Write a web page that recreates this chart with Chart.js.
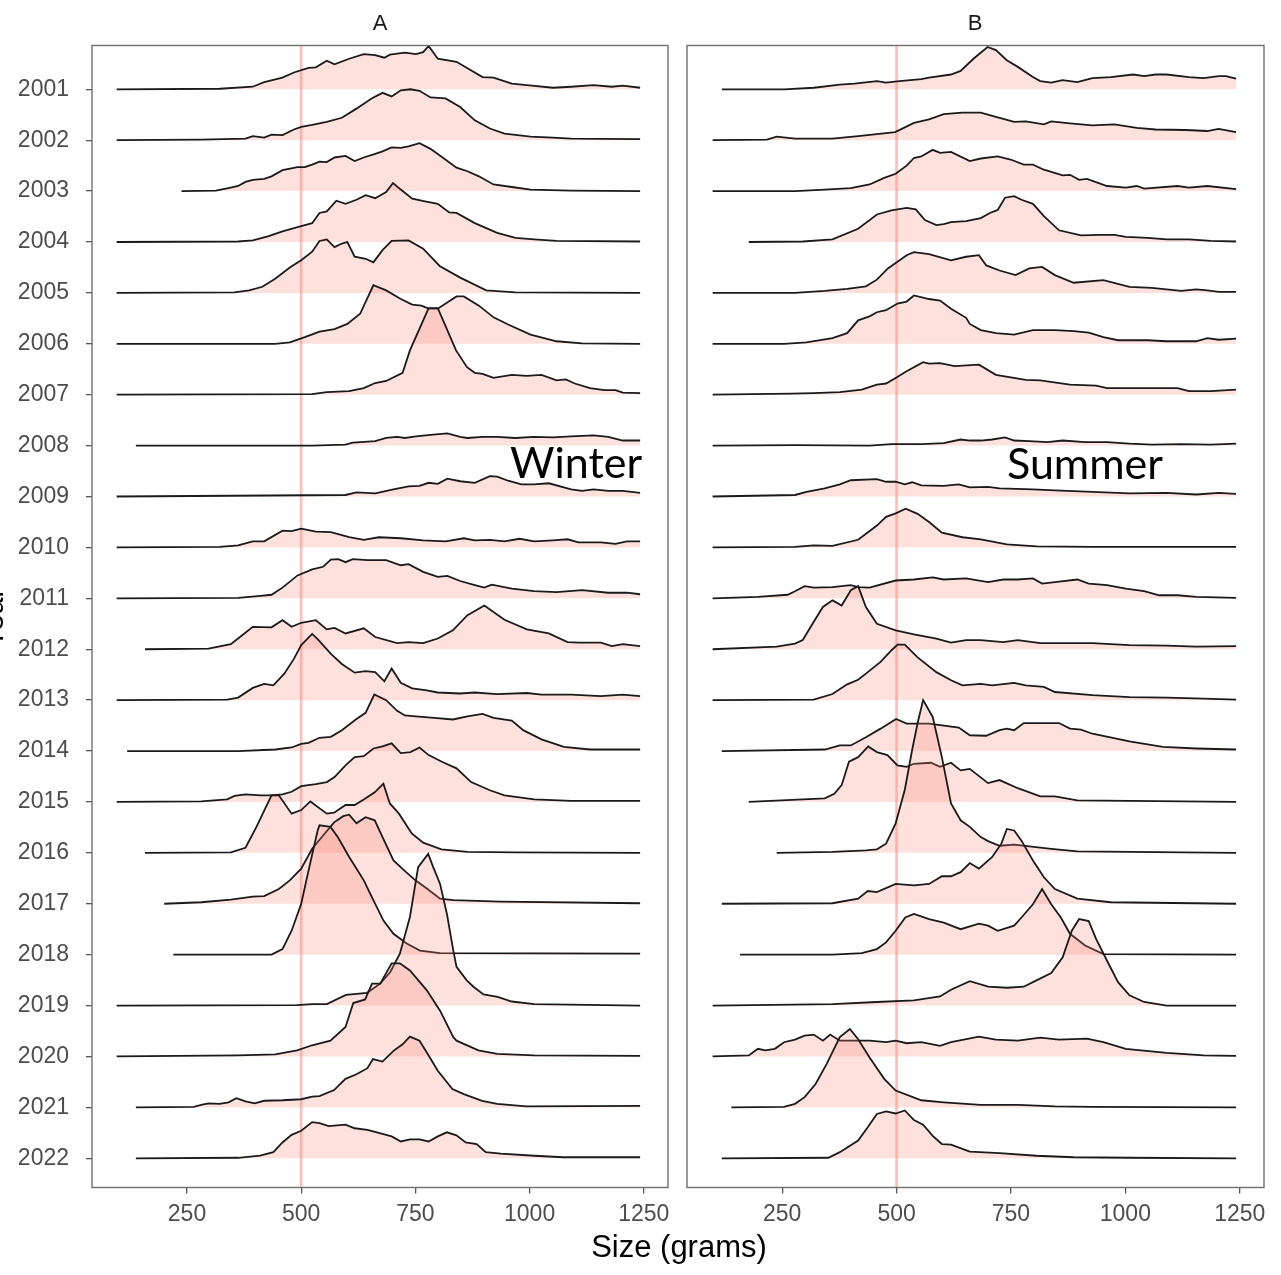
<!DOCTYPE html>
<html><head><meta charset="utf-8">
<script src="https://cdn.jsdelivr.net/npm/chart.js@4.4.1/dist/chart.umd.min.js"></script>
<style>
html,body{margin:0;padding:0;background:#fff;}
#wrap{position:relative;width:1281px;height:1275px;overflow:hidden;background:#fff;}
canvas{position:absolute;top:0;}
.t{position:absolute;white-space:nowrap;font-family:"Liberation Sans",Arial,sans-serif;color:#1a1a1a;}
.big{font-family:Lato,"Open Sans",sans-serif;font-size:43px;line-height:43px;color:#000;}
</style></head><body>
<div id="wrap">
<canvas id="cA" width="680" height="1275" style="left:0;width:680px;height:1275px"></canvas>
<canvas id="cB" width="609" height="1275" style="left:672px;width:609px;height:1275px"></canvas>
<div class="t" style="left:330px;top:12px;width:100px;text-align:center;font-size:22px;line-height:22px">A</div>
<div class="t" style="left:925px;top:12px;width:100px;text-align:center;font-size:22px;line-height:22px">B</div>
<div class="t" style="left:529px;top:1231px;width:300px;text-align:center;font-size:31px;line-height:31px;color:#000">Size (grams)</div>
<div class="t" style="left:-47px;top:603px;width:80px;height:30px;text-align:center;font-size:30px;line-height:30px;color:#000;transform:rotate(-90deg)">Year</div>
<div class="t big" style="left:510px;top:440px">Winter</div>
<div class="t big" style="left:1007px;top:441px">Summer</div>
</div>
<script>
const years = [2001,2002,2003,2004,2005,2006,2007,2008,2009,2010,2011,2012,2013,2014,2015,2016,2017,2018,2019,2020,2021,2022];
const xTicks = [250,500,750,1000,1250];
const refLine = 500;
const xMin = 42, xMax = 1303;

// Winter (panel A): [size in grams, ridge height in row units]
const winter = [
[[96,0],[322,0.01],[394,0.05],[419,0.14],[459,0.23],[484,0.33],[516,0.42],[532,0.43],[556,0.56],[573,0.49],[605,0.60],[637,0.69],[662,0.67],[682,0.62],[694,0.68],[727,0.72],[751,0.69],[767,0.73],[779,0.85],[799,0.6],[840,0.54],[897,0.24],[921,0.23],[961,0.11],[994,0.08],[1051,0.03],[1091,0.05],[1140,0.08],[1180,0.05],[1204,0.07],[1242,0.03]],
[[96,0],[281,0.01],[378,0.03],[394,0.08],[419,0.05],[435,0.11],[459,0.10],[484,0.21],[500,0.26],[524,0.30],[556,0.36],[589,0.44],[621,0.62],[654,0.82],[678,0.93],[698,0.86],[718,0.98],[739,1.0],[759,0.97],[783,0.84],[816,0.82],[848,0.65],[880,0.39],[913,0.23],[945,0.13],[1002,0.07],[1051,0.05],[1091,0.03],[1242,0.02]],
[[238,0],[313,0.01],[346,0.07],[362,0.10],[378,0.18],[394,0.22],[419,0.24],[435,0.29],[459,0.41],[492,0.47],[508,0.47],[524,0.52],[540,0.58],[556,0.57],[573,0.66],[597,0.69],[617,0.59],[637,0.66],[662,0.73],[678,0.78],[698,0.86],[718,0.85],[735,0.88],[759,0.94],[783,0.83],[808,0.67],[840,0.46],[864,0.39],[889,0.29],[921,0.13],[961,0.08],[1002,0.03],[1091,0.01],[1242,0]],
[[96,0],[362,0.01],[394,0.03],[427,0.11],[459,0.21],[492,0.29],[516,0.35],[524,0.37],[540,0.57],[556,0.60],[577,0.81],[597,0.75],[621,0.83],[641,0.92],[662,0.86],[686,0.98],[701,1.16],[718,1.03],[743,0.85],[771,0.80],[799,0.75],[824,0.58],[840,0.57],[880,0.37],[929,0.18],[969,0.08],[1010,0.05],[1059,0.02],[1242,0.01]],
[[96,0],[354,0.01],[386,0.05],[415,0.12],[443,0.28],[475,0.50],[500,0.64],[524,0.81],[540,1.02],[556,1.05],[573,0.90],[589,0.97],[601,1.00],[617,0.71],[641,0.67],[658,0.60],[678,0.84],[698,1.02],[735,1.03],[767,0.87],[803,0.53],[848,0.30],[905,0.05],[969,0.01],[1242,0]],
[[96,0],[443,0],[475,0.03],[508,0.13],[540,0.24],[573,0.29],[601,0.39],[629,0.59],[658,1.15],[686,1.05],[718,0.88],[743,0.77],[763,0.75],[779,0.69],[799,0.69],[840,0.93],[856,0.93],[889,0.75],[921,0.52],[953,0.38],[1002,0.18],[1059,0.05],[1115,0.01],[1242,0]],
[[96,0],[524,0.01],[556,0.05],[605,0.07],[637,0.13],[662,0.23],[686,0.27],[722,0.43],[738,0.87],[779,1.70],[799,1.70],[839,0.87],[863,0.54],[880,0.43],[897,0.41],[921,0.33],[961,0.39],[994,0.37],[1026,0.39],[1059,0.28],[1079,0.30],[1099,0.22],[1132,0.13],[1164,0.09],[1188,0.09],[1204,0.04],[1242,0.03]],
[[138,0],[524,0],[597,0.02],[613,0.06],[662,0.09],[686,0.15],[710,0.17],[727,0.15],[751,0.18],[783,0.21],[820,0.24],[848,0.17],[864,0.15],[897,0.17],[929,0.17],[969,0.15],[1010,0.17],[1051,0.16],[1091,0.18],[1140,0.20],[1172,0.17],[1204,0.10],[1242,0.10]],
[[96,0],[597,0.03],[621,0.08],[662,0.06],[702,0.14],[735,0.20],[759,0.21],[779,0.27],[799,0.25],[820,0.35],[848,0.30],[880,0.27],[913,0.40],[929,0.39],[953,0.31],[982,0.24],[1010,0.24],[1042,0.26],[1091,0.14],[1115,0.11],[1140,0.14],[1172,0.11],[1204,0.11],[1242,0.07]],
[[96,0],[322,0.01],[362,0.04],[394,0.12],[419,0.12],[459,0.33],[479,0.32],[500,0.37],[532,0.31],[565,0.30],[605,0.20],[637,0.15],[670,0.20],[718,0.18],[767,0.14],[816,0.12],[856,0.18],[880,0.14],[913,0.15],[945,0.12],[978,0.17],[1010,0.12],[1051,0.14],[1083,0.16],[1107,0.10],[1156,0.10],[1188,0.07],[1213,0.12],[1242,0.12]],
[[96,0],[362,0.01],[411,0.05],[435,0.07],[459,0.21],[492,0.45],[524,0.57],[548,0.62],[565,0.76],[581,0.77],[597,0.71],[613,0.77],[645,0.75],[686,0.75],[718,0.65],[735,0.67],[767,0.52],[799,0.42],[820,0.44],[848,0.34],[880,0.26],[901,0.21],[917,0.27],[961,0.19],[1010,0.14],[1059,0.12],[1115,0.16],[1172,0.11],[1213,0.11],[1242,0.08]],
[[158,0],[297,0.01],[346,0.10],[370,0.27],[394,0.44],[435,0.43],[459,0.57],[479,0.44],[500,0.52],[532,0.57],[556,0.39],[573,0.42],[597,0.31],[637,0.41],[662,0.24],[710,0.12],[735,0.14],[767,0.12],[799,0.21],[832,0.37],[864,0.67],[901,0.86],[945,0.58],[994,0.39],[1042,0.31],[1083,0.14],[1107,0.13],[1156,0.13],[1180,0.06],[1204,0.10],[1242,0.06]],
[[96,0],[338,0.01],[362,0.05],[394,0.24],[419,0.32],[439,0.29],[463,0.52],[484,0.81],[500,1.08],[524,1.30],[536,1.2],[565,0.91],[589,0.71],[617,0.54],[641,0.57],[662,0.55],[682,0.37],[698,0.62],[718,0.34],[743,0.23],[775,0.19],[799,0.15],[848,0.13],[880,0.15],[929,0.12],[994,0.14],[1026,0.11],[1091,0.11],[1156,0.08],[1204,0.11],[1242,0.08]],
[[119,0],[362,0],[443,0.03],[479,0.07],[500,0.14],[516,0.16],[540,0.26],[565,0.28],[589,0.41],[621,0.63],[641,0.75],[660,1.11],[686,1.0],[710,0.79],[727,0.70],[751,0.68],[791,0.65],[832,0.62],[864,0.68],[897,0.73],[921,0.65],[961,0.60],[986,0.41],[1026,0.23],[1075,0.08],[1132,0.03],[1242,0.03]],
[[96,0],[281,0.01],[338,0.05],[354,0.12],[378,0.15],[411,0.13],[435,0.13],[459,0.15],[479,0.20],[500,0.31],[532,0.35],[556,0.39],[573,0.49],[597,0.72],[617,0.88],[637,0.90],[658,1.05],[678,1.09],[698,1.15],[718,0.96],[739,0.98],[759,1.07],[779,0.92],[808,0.79],[840,0.66],[872,0.39],[913,0.23],[945,0.13],[1010,0.05],[1091,0.02],[1242,0.02]],
[[158,0],[346,0.01],[378,0.10],[402,0.51],[435,1.13],[451,1.13],[479,0.77],[500,0.84],[520,1.01],[556,0.77],[572,0.79],[597,0.94],[617,0.94],[637,1.05],[661,1.19],[680,1.36],[694,0.97],[714,0.77],[742,0.38],[767,0.20],[807,0.07],[864,0.02],[969,0.01],[1242,0]],
[[200,0],[281,0.03],[346,0.08],[394,0.14],[419,0.15],[451,0.29],[475,0.46],[500,0.69],[524,1.08],[548,1.34],[572,1.60],[592,1.72],[605,1.75],[621,1.58],[641,1.70],[661,1.64],[678,1.31],[702,0.85],[726,0.65],[750,0.46],[775,0.30],[804,0.10],[833,0.07],[935,0.04],[1242,0.01]],
[[220,0],[435,0],[459,0.11],[479,0.47],[500,1.0],[516,1.65],[536,2.44],[540,2.54],[564,2.51],[580,2.31],[605,1.92],[614,1.79],[637,1.46],[651,1.20],[680,0.67],[702,0.41],[731,0.22],[760,0.08],[804,0.03],[1242,0.02]],
[[96,0],[491,0.01],[524,0.03],[556,0.03],[598,0.21],[644,0.25],[673,0.43],[695,0.66],[716,1.02],[738,1.74],[756,2.72],[778,2.98],[789,2.72],[804,2.39],[819,1.80],[833,1.08],[840,0.76],[862,0.5],[877,0.37],[899,0.22],[930,0.17],[961,0.08],[1010,0.03],[1242,0]],
[[96,0],[362,0.02],[443,0.04],[491,0.12],[524,0.22],[564,0.31],[597,0.58],[614,1.05],[640,1.12],[655,1.43],[673,1.43],[698,1.83],[716,1.83],[738,1.69],[775,1.30],[804,0.90],[833,0.38],[840,0.31],[888,0.12],[929,0.05],[1010,0.02],[1242,0.01]],
[[138,0],[265,0.01],[281,0.05],[297,0.08],[321,0.07],[341,0.10],[358,0.18],[378,0.12],[398,0.08],[419,0.13],[459,0.14],[500,0.16],[524,0.21],[540,0.22],[572,0.34],[597,0.56],[621,0.65],[645,0.77],[657,0.95],[678,0.90],[702,1.11],[722,1.24],[738,1.39],[759,1.31],[775,1.08],[799,0.72],[831,0.36],[856,0.26],[896,0.13],[929,0.07],[993,0.02],[1242,0.03]],
[[138,0],[362,0.01],[410,0.05],[439,0.12],[459,0.31],[479,0.46],[500,0.54],[524,0.71],[540,0.69],[560,0.63],[597,0.66],[617,0.59],[645,0.56],[678,0.48],[698,0.43],[718,0.33],[738,0.37],[759,0.37],[779,0.33],[799,0.43],[819,0.51],[840,0.45],[860,0.31],[884,0.28],[904,0.12],[937,0.09],[1010,0.05],[1074,0.02],[1242,0.02]]
];

// Summer (panel B)
const summer = [
[[118,0],[254,0],[319,0.03],[376,0.09],[408,0.11],[457,0.16],[477,0.13],[506,0.16],[554,0.20],[571,0.23],[619,0.29],[640,0.36],[668,0.60],[699,0.83],[717,0.77],[741,0.57],[765,0.44],[798,0.24],[814,0.16],[838,0.13],[863,0.18],[895,0.14],[928,0.22],[968,0.24],[1017,0.29],[1041,0.26],[1066,0.29],[1090,0.29],[1139,0.24],[1171,0.22],[1204,0.26],[1220,0.26],[1242,0.21]],
[[98,0],[217,0.01],[238,0.07],[278,0.03],[360,0.03],[416,0.08],[457,0.12],[497,0.16],[538,0.34],[571,0.41],[603,0.51],[644,0.54],[684,0.54],[717,0.46],[757,0.36],[782,0.37],[822,0.31],[838,0.37],[879,0.33],[928,0.29],[976,0.31],[1025,0.24],[1066,0.21],[1131,0.20],[1179,0.18],[1204,0.22],[1242,0.16]],
[[98,0],[278,0],[343,0.03],[400,0.06],[441,0.13],[473,0.26],[498,0.34],[522,0.50],[538,0.65],[554,0.68],[579,0.81],[595,0.75],[619,0.77],[660,0.59],[684,0.64],[721,0.68],[749,0.62],[778,0.52],[798,0.52],[822,0.42],[863,0.31],[879,0.32],[899,0.22],[916,0.24],[960,0.10],[1001,0.07],[1025,0.10],[1041,0.05],[1114,0.10],[1139,0.07],[1179,0.10],[1242,0.04]],
[[177,0],[295,0.01],[360,0.05],[416,0.26],[457,0.54],[489,0.62],[522,0.67],[542,0.64],[562,0.43],[587,0.33],[603,0.35],[619,0.39],[652,0.41],[684,0.47],[704,0.57],[721,0.63],[737,0.87],[757,0.90],[773,0.83],[798,0.75],[822,0.51],[855,0.23],[903,0.13],[944,0.14],[976,0.14],[1001,0.10],[1049,0.08],[1090,0.05],[1139,0.05],[1187,0.02],[1242,0.01]],
[[98,0],[278,0],[343,0.04],[392,0.08],[433,0.13],[457,0.26],[481,0.48],[502,0.61],[522,0.74],[538,0.80],[571,0.76],[619,0.64],[652,0.71],[680,0.74],[696,0.54],[725,0.44],[760,0.35],[790,0.48],[818,0.51],[846,0.35],[887,0.20],[952,0.25],[1009,0.12],[1058,0.10],[1122,0.04],[1155,0.07],[1179,0.05],[1204,0.02],[1242,0.02]],
[[98,0],[254,0],[303,0.03],[360,0.11],[392,0.21],[416,0.46],[441,0.54],[457,0.62],[477,0.66],[502,0.79],[522,0.83],[538,0.95],[571,0.88],[595,0.85],[619,0.69],[652,0.51],[660,0.39],[684,0.27],[717,0.21],[757,0.18],[798,0.27],[846,0.27],[887,0.25],[920,0.22],[952,0.13],[984,0.07],[1049,0.07],[1090,0.05],[1155,0.05],[1179,0.11],[1204,0.08],[1242,0.10]],
[[98,0],[270,0.02],[319,0.03],[376,0.05],[424,0.10],[457,0.20],[477,0.22],[498,0.33],[522,0.46],[558,0.64],[571,0.61],[595,0.62],[627,0.56],[680,0.59],[717,0.39],[782,0.29],[814,0.28],[879,0.20],[936,0.18],[960,0.13],[993,0.13],[1114,0.13],[1139,0.07],[1187,0.07],[1242,0.10]],
[[98,0],[278,0.01],[441,0],[489,0.03],[554,0.03],[603,0.05],[640,0.12],[660,0.10],[684,0.10],[709,0.12],[737,0.16],[757,0.10],[790,0.09],[830,0.07],[863,0.10],[912,0.07],[960,0.07],[1009,0.04],[1058,0.02],[1122,0.03],[1187,0.02],[1242,0.04]],
[[98,0],[278,0.03],[303,0.09],[343,0.16],[376,0.24],[400,0.32],[457,0.34],[477,0.29],[498,0.29],[518,0.24],[534,0.28],[554,0.22],[603,0.21],[636,0.24],[660,0.18],[700,0.19],[725,0.16],[798,0.14],[846,0.12],[928,0.09],[1009,0.06],[1090,0.07],[1155,0.04],[1204,0.07],[1242,0.05]],
[[98,0],[278,0.01],[319,0.04],[360,0.03],[416,0.15],[457,0.43],[477,0.60],[498,0.67],[520,0.76],[546,0.66],[571,0.50],[599,0.29],[644,0.20],[684,0.16],[741,0.06],[806,0.02],[928,0.01],[1242,0.01]],
[[98,0],[197,0.03],[262,0.07],[278,0.14],[299,0.24],[319,0.21],[360,0.22],[400,0.26],[416,0.22],[441,0.21],[498,0.35],[538,0.37],[579,0.41],[603,0.37],[652,0.39],[700,0.32],[733,0.37],[765,0.37],[798,0.39],[818,0.29],[846,0.32],[895,0.37],[920,0.29],[960,0.26],[1001,0.19],[1041,0.14],[1074,0.06],[1114,0.06],[1155,0.03],[1242,0.01]],
[[98,0],[238,0.05],[278,0.11],[295,0.18],[319,0.54],[339,0.83],[360,0.96],[380,0.86],[400,1.16],[416,1.24],[433,0.83],[457,0.50],[498,0.37],[538,0.29],[587,0.21],[619,0.13],[652,0.18],[684,0.18],[733,0.14],[765,0.18],[814,0.12],[928,0.12],[1009,0.08],[1090,0.07],[1155,0.05],[1242,0.06]],
[[98,0],[319,0.01],[360,0.12],[392,0.31],[416,0.40],[433,0.52],[465,0.75],[489,0.98],[502,1.09],[518,1.09],[546,0.84],[587,0.55],[619,0.39],[644,0.29],[684,0.32],[709,0.29],[757,0.34],[782,0.29],[822,0.26],[846,0.16],[928,0.10],[1009,0.06],[1090,0.05],[1171,0.03],[1242,0.01]],
[[118,0],[343,0.03],[376,0.11],[400,0.11],[433,0.27],[465,0.44],[499,0.63],[522,0.54],[571,0.54],[636,0.46],[660,0.31],[696,0.30],[725,0.41],[741,0.44],[757,0.41],[778,0.55],[855,0.55],[879,0.44],[903,0.42],[928,0.34],[1009,0.19],[1082,0.08],[1155,0.05],[1242,0.03]],
[[177,0],[343,0.07],[364,0.16],[380,0.33],[396,0.79],[416,0.88],[438,1.09],[457,0.98],[480,0.92],[502,0.72],[522,0.69],[538,0.75],[575,0.77],[595,0.69],[619,0.77],[640,0.62],[660,0.65],[700,0.37],[725,0.43],[765,0.27],[814,0.11],[846,0.11],[895,0.03],[1242,0]],
[[238,0],[360,0.02],[433,0.05],[457,0.07],[477,0.18],[498,0.58],[518,1.24],[534,2.02],[546,2.55],[558,3.0],[579,2.67],[599,1.88],[619,0.97],[640,0.64],[660,0.51],[684,0.31],[700,0.23],[725,0.14],[757,0.16],[838,0.08],[895,0.03],[1242,0]],
[[118,0],[360,0.01],[416,0.10],[437,0.25],[457,0.23],[498,0.39],[538,0.36],[571,0.39],[599,0.54],[619,0.54],[640,0.62],[660,0.80],[680,0.69],[709,0.92],[729,1.18],[741,1.47],[757,1.44],[773,1.24],[798,0.85],[822,0.52],[846,0.29],[895,0.10],[968,0.03],[1242,0]],
[[158,0],[360,0],[424,0.03],[457,0.11],[477,0.24],[498,0.47],[519,0.73],[538,0.80],[571,0.70],[603,0.63],[640,0.50],[680,0.61],[700,0.57],[721,0.47],[757,0.57],[773,0.73],[798,0.99],[818,1.29],[838,0.99],[859,0.73],[879,0.41],[912,0.18],[952,0.01],[1242,0]],
[[98,0],[360,0.03],[457,0.07],[538,0.10],[595,0.18],[619,0.31],[660,0.48],[700,0.37],[741,0.35],[778,0.37],[798,0.46],[838,0.64],[863,0.95],[883,1.47],[899,1.70],[920,1.66],[936,1.31],[960,0.88],[984,0.46],[1009,0.20],[1041,0.07],[1090,0],[1242,0]],
[[98,0],[177,0.02],[197,0.15],[213,0.12],[234,0.15],[254,0.28],[278,0.33],[299,0.41],[319,0.43],[339,0.31],[355,0.43],[376,0.31],[400,0.31],[441,0.31],[477,0.28],[498,0.31],[522,0.26],[554,0.28],[595,0.21],[619,0.28],[680,0.39],[717,0.33],[765,0.31],[814,0.37],[855,0.33],[916,0.35],[952,0.28],[1001,0.15],[1090,0.07],[1171,0.02],[1242,0.01]],
[[139,0],[254,0.01],[278,0.07],[299,0.20],[323,0.46],[347,0.85],[376,1.38],[398,1.54],[416,1.34],[441,0.98],[473,0.56],[498,0.33],[554,0.14],[603,0.10],[684,0.05],[765,0.05],[846,0.02],[928,0.01],[1242,0]],
[[118,0],[351,0.01],[376,0.12],[416,0.35],[437,0.61],[457,0.87],[477,0.92],[498,0.88],[518,0.94],[538,0.75],[558,0.66],[579,0.44],[599,0.28],[619,0.27],[660,0.13],[725,0.10],[806,0.05],[887,0.02],[1009,0.01],[1242,0]]
];

Chart.defaults.font.family = '"Liberation Sans", Arial, sans-serif';
const nRows = years.length;

function ridgeSets(ridges){
  return ridges.map((pts, i) => {
    const base = nRows - 1 - i;
    return {
      label: String(years[i]),
      data: pts.map(p => ({x: p[0], y: base + p[1]})),
      fill: {value: base},
      backgroundColor: 'rgba(250,128,114,0.24)',
      borderColor: '#1a1a1a',
      borderWidth: 1.8,
      pointRadius: 0,
      tension: 0,
      order: base
    };
  });
}

const panelPlugin = {
  id: 'panel',
  beforeDatasetsDraw(chart){
    const {ctx, chartArea: a, scales: {x}} = chart;
    const px = x.getPixelForValue(refLine);
    ctx.save();
    ctx.strokeStyle = 'rgba(250,128,114,0.5)';
    ctx.lineWidth = 2.6;
    ctx.beginPath(); ctx.moveTo(px, a.top); ctx.lineTo(px, a.bottom); ctx.stroke();
    ctx.restore();
  },
  afterDraw(chart){
    const {ctx, chartArea: a} = chart;
    ctx.save();
    ctx.strokeStyle = '#6f6f6f';
    ctx.lineWidth = 1.4;
    ctx.strokeRect(a.left, a.top, a.width, a.height);
    ctx.restore();
  }
};

function makeOptions(showY, pad){
  return {
    responsive: false,
    devicePixelRatio: 1,
    animation: false,
    layout: {padding: pad},
    plugins: {legend: {display: false}, tooltip: {enabled: false}},
    scales: {
      x: {
        type: 'linear', min: xMin, max: xMax,
        afterBuildTicks: s => { s.ticks = xTicks.map(v => ({value: v})); },
        afterFit: s => { s.height = 1275 - 1187.5; },
        ticks: {autoSkip: false, maxRotation: 0, color: '#4d4d4d', font: {size: 23}, padding: 7,
          callback: v => String(v)},
        grid: {drawOnChartArea: false, drawTicks: true, tickLength: 6, color: '#555', lineWidth: 1.3},
        border: {display: false}
      },
      y: {
        type: 'linear', min: -0.574, max: 21.86,
        display: showY,
        afterBuildTicks: s => { s.ticks = years.map((_, i) => ({value: i})); },
        afterFit: s => { s.width = showY ? 92 : 0; },
        ticks: {autoSkip: false, color: '#4d4d4d', font: {size: 23}, padding: 17,
          callback: v => String(years[nRows - 1 - v])},
        grid: {drawOnChartArea: false, drawTicks: true, tickLength: 6, color: '#555', lineWidth: 1.3},
        border: {display: false}
      }
    }
  };
}

new Chart(document.getElementById('cA'), {
  type: 'line',
  data: {datasets: ridgeSets(winter)},
  options: makeOptions(true, {top: 45.5, right: 12, bottom: 0, left: 0}),
  plugins: [panelPlugin]
});
new Chart(document.getElementById('cB'), {
  type: 'line',
  data: {datasets: ridgeSets(summer)},
  options: makeOptions(false, {top: 45.5, right: 17, bottom: 0, left: 15}),
  plugins: [panelPlugin]
});
</script>
</body></html>
